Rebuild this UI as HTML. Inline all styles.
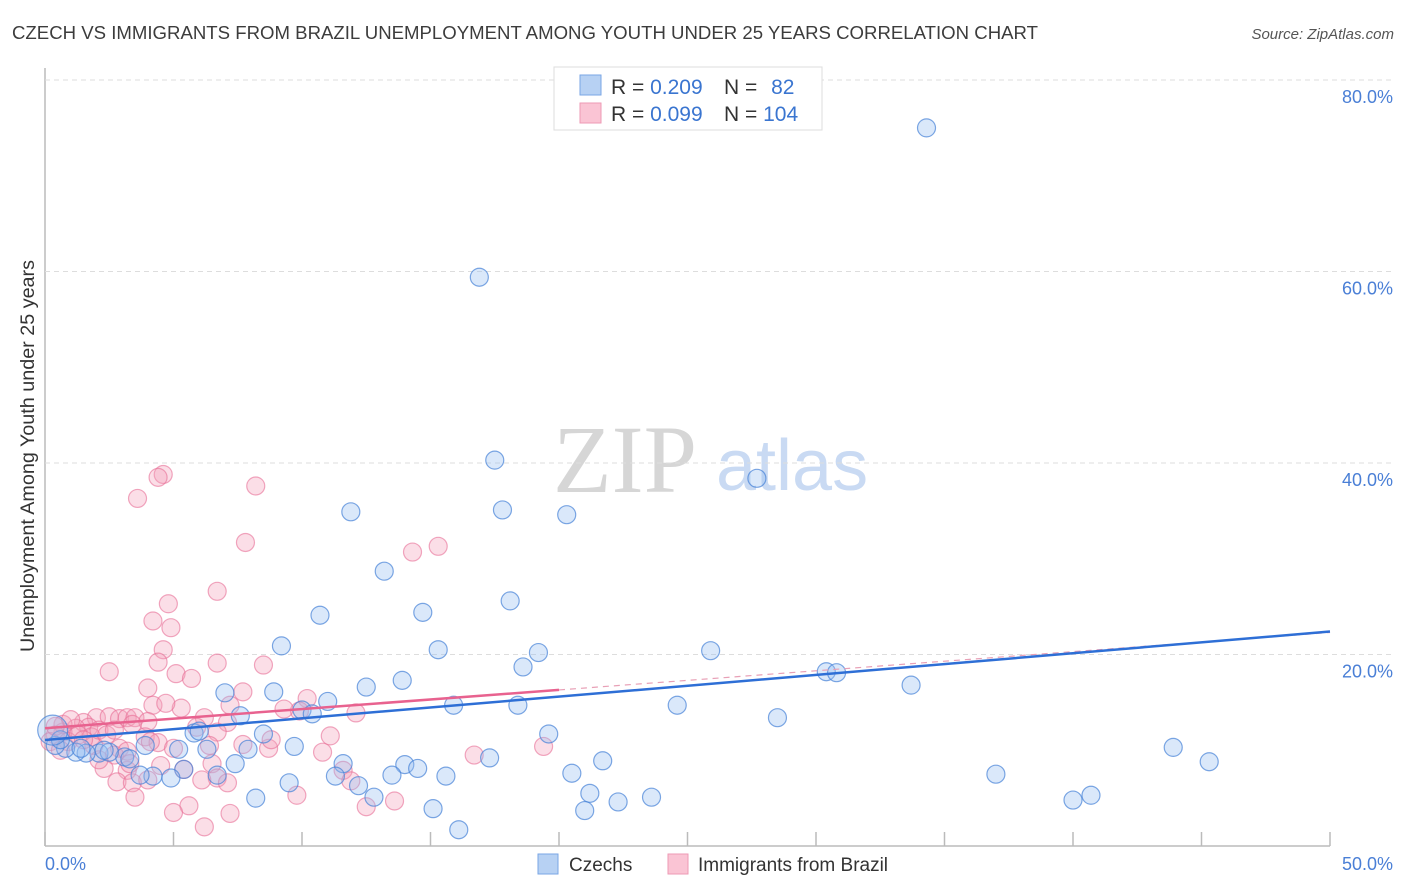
<!DOCTYPE html>
<html><head><meta charset="utf-8">
<style>
body{margin:0;background:#fff;font-family:"Liberation Sans",sans-serif;}
#wrap{position:relative;width:1406px;height:892px;overflow:hidden;}
</style></head>
<body><div id="wrap">
<svg id="svg" width="1406" height="892" xmlns="http://www.w3.org/2000/svg">
<text x="12" y="39" font-size="18" fill="#3c3c3c" textLength="1026" lengthAdjust="spacingAndGlyphs">CZECH VS IMMIGRANTS FROM BRAZIL UNEMPLOYMENT AMONG YOUTH UNDER 25 YEARS CORRELATION CHART</text>
<text x="1394" y="39" font-size="15" fill="#555" font-style="italic" text-anchor="end">Source: ZipAtlas.com</text>
<text x="34" y="456" font-size="19" fill="#333" text-anchor="middle" textLength="392" lengthAdjust="spacingAndGlyphs" transform="rotate(-90 34 456)">Unemployment Among Youth under 25 years</text>
<g>
<text x="553" y="492" font-size="96" font-family="Liberation Serif,serif" fill="#d6d6d6">ZIP</text>
<text x="716" y="490" font-size="72" fill="#c9daf3">atlas</text>
</g>
<g id="grid"></g>
<g id="pts"></g>
<g id="trend"></g>
<g>
<rect x="554" y="67" width="268" height="63" fill="#fff" stroke="#ddd"/>
<rect x="580" y="75" width="21" height="20" fill="#b7d1f3" stroke="#7aa6e4"/>
<rect x="580" y="103" width="21" height="20" fill="#fac4d4" stroke="#ee9ab4"/>
<text x="611" y="94" font-size="21" fill="#333">R = <tspan fill="#3a75d0">0.209</tspan></text>
<text x="724" y="94" font-size="21" fill="#333">N = <tspan fill="#3a75d0" dx="8">82</tspan></text>
<text x="611" y="121" font-size="21" fill="#333">R = <tspan fill="#3a75d0">0.099</tspan></text>
<text x="724" y="121" font-size="21" fill="#333">N = <tspan fill="#3a75d0">104</tspan></text>
</g>
<g>
<rect x="538" y="854" width="20" height="20" fill="#b7d1f3" stroke="#7aa6e4"/>
<text x="569" y="871" font-size="19" fill="#333">Czechs</text>
<rect x="668" y="854" width="20" height="20" fill="#fac4d4" stroke="#ee9ab4"/>
<text x="698" y="871" font-size="19" fill="#333">Immigrants from Brazil</text>
</g>
<text x="45" y="870" font-size="18" fill="#4a7fd6">0.0%</text>
<text x="1393" y="870" font-size="18" fill="#4a7fd6" text-anchor="end">50.0%</text>
</svg>
<script>
const yTicks=[20,40,60,80];
const yTickLabels=["20.0%","40.0%","60.0%","80.0%"];
const xTicks=[0,5,10,15,20,25,30,35,40,45,50];
const czX=[34.3,16.9,17.5,27.7,11.9,17.8,20.3,13.2,14.7,18.1,10.7,9.2,15.3,19.2,25.9,18.6,30.4,30.8,33.7,13.9,12.5,7.0,8.9,11.0,15.9,18.4,24.6,10.0,10.4,7.6,28.5,8.5,19.6,5.8,6.0,43.9,9.7,3.9,6.3,5.2,7.9,11.6,17.3,21.7,14.0,14.5,45.3,7.4,3.1,2.1,1.6,1.2,0.8,0.4,2.5,3.3,5.4,11.3,13.5,15.6,20.5,37.0,4.2,4.9,6.7,12.2,9.5,21.2,40.7,40.0,23.6,22.3,12.8,8.2,15.1,21.0,16.1,0.6,1.4,3.7,2.3];
const czY=[75.0,59.4,40.3,38.4,34.9,35.1,34.6,28.7,24.4,25.6,24.1,20.9,20.5,20.2,20.4,18.7,18.2,18.1,16.8,17.3,16.6,16.0,16.1,15.1,14.7,14.7,14.7,14.2,13.8,13.6,13.4,11.7,11.7,11.8,12.0,10.3,10.4,10.5,10.1,10.1,10.1,8.6,9.2,8.9,8.5,8.1,8.8,8.6,9.3,9.7,9.7,9.8,10.2,10.5,9.8,9.1,8.0,7.3,7.4,7.3,7.6,7.5,7.3,7.1,7.4,6.3,6.6,5.5,5.3,4.8,5.1,4.6,5.1,5.0,3.9,3.7,1.7,11.1,10.2,7.4,10.0];
const brX=[4.6,4.4,3.6,8.2,7.8,15.3,14.3,6.7,4.8,4.2,4.9,4.6,4.4,6.7,8.5,2.5,5.1,5.7,4.0,7.7,4.2,5.3,4.7,10.2,9.9,12.1,11.1,2.0,2.5,2.9,3.2,3.5,6.2,7.1,6.7,5.9,4.0,3.4,3.9,1.5,1.7,1.2,0.7,0.4,0.2,0.9,2.9,4.4,7.7,8.7,10.8,16.7,19.4,2.7,3.2,5.0,3.2,3.3,11.6,11.9,5.4,6.5,2.8,3.4,4.0,2.3,6.7,7.1,6.1,9.8,13.6,12.5,3.5,5.6,5.0,7.2,6.2,1.8,1.9,0.7,1.0,1.3,2.1,0.4,1.5,2.4,2.7,2.1,4.5,8.8,7.2,9.3,6.4,4.1,0.6];
const brY=[38.8,38.5,36.3,37.6,31.7,31.3,30.7,26.6,25.3,23.5,22.8,20.5,19.2,19.1,18.9,18.2,18.0,17.5,16.5,16.1,14.7,14.4,14.9,15.4,14.1,13.9,11.5,13.4,13.5,13.3,13.4,13.4,13.4,12.9,11.9,12.4,13.0,12.7,11.4,12.9,12.4,12.3,11.9,11.6,10.9,10.9,10.2,10.8,10.6,10.2,9.8,9.5,10.4,9.5,9.9,10.2,7.9,8.6,7.9,6.8,8.0,8.6,6.7,6.6,6.9,8.1,7.1,6.6,6.9,5.3,4.7,4.1,5.1,4.2,3.5,3.4,2.0,11.4,10.5,12.7,13.2,11.6,12.1,12.5,11.1,11.6,12.1,9.0,8.4,11.1,14.7,14.3,10.5,10.9,10.0];
const czTrend=[11.07,22.4];
const brTrend=[12.3,16.3,22.3];
const brSolidEnd=20;

const NS="http://www.w3.org/2000/svg";
const X0=45,X1=1330,Y0=846,Y80=80;
function sx(v){return X0+(X1-X0)*v/50;}
function sy(v){return Y0-(Y0-Y80)*v/80;}
function mk(t,a,p){const e=document.createElementNS(NS,t);for(const k in a)e.setAttribute(k,a[k]);p.appendChild(e);return e;}
const grid=document.getElementById('grid');
mk('line',{x1:X0,y1:68,x2:X0,y2:Y0,stroke:'#bbb','stroke-width':1.5},grid);
mk('line',{x1:X0,y1:Y0,x2:X1,y2:Y0,stroke:'#bbb','stroke-width':1.5},grid);
yTicks.forEach((t,i)=>{
 const l=mk('line',{x1:X0,y1:sy(t),x2:1394,y2:sy(t),stroke:'#ddd','stroke-dasharray':'5,4'},grid);
 
 
 const tx=mk('text',{x:1393,y:sy(t)+23,'font-size':18,fill:'#4a7fd6','text-anchor':'end'},grid);
 tx.textContent=yTickLabels[i];
 
 
});
xTicks.forEach(t=>{
 const l=mk('line',{x1:sx(t),y1:Y0,x2:sx(t),y2:Y0-14,stroke:'#bbb','stroke-width':1.5},grid);
 
 
});
const pts=document.getElementById('pts');
brX.forEach((x,i)=>{
 const c=mk('circle',{cx:sx(x),cy:sy(brY[i]),r:9,fill:'rgba(244,160,187,0.35)',stroke:'rgba(232,110,150,0.6)','stroke-width':1.2},pts);
 
 
});
czX.forEach((x,i)=>{
 const c=mk('circle',{cx:sx(x),cy:sy(czY[i]),r:9,fill:'rgba(150,190,240,0.35)',stroke:'rgba(70,130,215,0.7)','stroke-width':1.2},pts);
 
 
});
const big=mk('circle',{cx:sx(0.3),cy:sy(12.1),r:15,fill:'rgba(150,190,240,0.35)',stroke:'rgba(70,130,215,0.7)','stroke-width':1.2},pts);


const tr=document.getElementById('trend');
const d1=mk('line',{x1:sx(brSolidEnd),y1:sy(brTrend[1]),x2:sx(50),y2:sy(brTrend[2]),stroke:'#e8a0b6','stroke-width':1.2,'stroke-dasharray':'6,5'},tr);


const l1=mk('line',{x1:sx(0),y1:sy(czTrend[0]),x2:sx(50),y2:sy(czTrend[1]),stroke:'#2e6fd6','stroke-width':2.5},tr);


const l2=mk('line',{x1:sx(0),y1:sy(brTrend[0]),x2:sx(brSolidEnd),y2:sy(brTrend[1]),stroke:'#e8628f','stroke-width':2.5},tr);


</script>
</div></body></html>
